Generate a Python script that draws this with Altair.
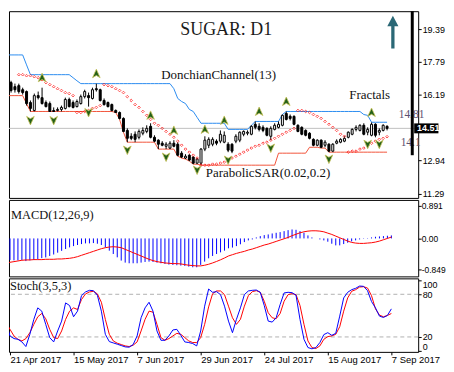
import altair as alt
import pandas as pd

# ---------------- data ----------------
bar_index = list(range(-2, 97))

opens = [16.95, 16.76, 16.56, 16.61, 16.41, 16.32, 15.78, 15.39, 16.12, 16.02,
         15.78, 15.73, 15.39, 15.39, 15.44, 15.49, 15.93, 15.78, 15.58, 15.73,
         16.07, 16.12, 15.98, 16.46, 16.41, 15.88, 15.78, 15.68, 15.39, 15.29,
         15.00, 14.41, 14.12, 14.22, 14.07, 14.27, 14.36, 14.61, 14.07, 13.93,
         13.78, 13.63, 13.54, 13.78, 13.73, 13.29, 13.05, 13.19, 13.10, 12.80,
         12.80, 13.49, 13.68, 13.73, 13.88, 13.88, 13.83, 13.73, 13.73, 13.88,
         13.93, 14.22, 14.27, 14.22, 14.71, 14.61, 14.56, 14.51, 14.12, 14.46,
         14.56, 14.66, 15.24, 15.10, 15.10, 14.66, 14.56, 14.41, 14.27, 13.97,
         13.68, 13.93, 13.68, 13.73, 13.39, 13.78, 13.83, 13.88, 14.07, 14.22,
         14.46, 14.41, 14.66, 14.32, 14.17, 14.71, 14.32, 14.41, 14.61]
highs = [17.05, 16.85, 16.71, 16.71, 16.51, 16.37, 15.88, 16.22, 16.32, 16.51,
         15.88, 15.83, 15.54, 15.54, 15.63, 16.02, 16.02, 15.88, 15.93, 16.17,
         16.41, 16.27, 16.51, 16.71, 16.46, 15.98, 15.83, 15.73, 15.44, 15.34,
         15.05, 14.51, 14.27, 14.36, 14.46, 14.56, 14.66, 14.76, 14.17, 13.97,
         13.88, 13.83, 13.88, 13.93, 13.83, 13.39, 13.24, 13.24, 13.14, 13.05,
         13.54, 14.12, 14.07, 14.07, 13.97, 14.41, 14.36, 13.83, 13.78, 14.22,
         14.36, 14.41, 14.41, 14.66, 14.85, 14.76, 14.66, 14.56, 14.61, 14.76,
         14.85, 15.19, 15.34, 15.19, 15.15, 14.71, 14.61, 14.46, 14.32, 14.02,
         13.97, 13.97, 13.93, 13.78, 13.78, 13.97, 14.02, 14.12, 14.36, 14.51,
         14.66, 14.71, 14.76, 14.56, 14.80, 14.76, 14.51, 14.71, 14.66]
lows = [16.37, 16.27, 16.27, 16.22, 16.17, 15.63, 15.34, 15.34, 15.93, 15.68,
        15.54, 15.34, 15.34, 15.34, 15.34, 15.44, 15.54, 15.49, 15.54, 15.68,
        15.98, 15.58, 15.93, 16.32, 15.83, 15.63, 15.54, 15.34, 15.29, 14.95,
        14.32, 13.83, 13.93, 13.83, 13.97, 14.17, 14.27, 14.02, 13.83, 13.49,
        13.63, 13.49, 13.49, 13.58, 13.14, 13.05, 13.00, 12.90, 12.75, 12.75,
        12.70, 13.39, 13.54, 13.63, 13.68, 13.78, 13.78, 13.34, 13.29, 13.78,
        13.83, 14.12, 14.17, 14.17, 14.46, 14.36, 14.32, 14.12, 13.93, 14.41,
        14.51, 14.61, 14.90, 14.90, 14.66, 14.32, 14.17, 14.12, 13.97, 13.63,
        13.63, 13.54, 13.58, 13.34, 13.34, 13.73, 13.78, 13.83, 14.02, 14.17,
        14.36, 14.36, 14.17, 14.17, 14.12, 14.07, 14.17, 14.36, 14.41]
closes = [16.46, 16.37, 16.41, 16.32, 16.27, 15.73, 15.49, 16.12, 16.02, 15.73,
          15.58, 15.34, 15.34, 15.44, 15.54, 15.93, 15.58, 15.54, 15.83, 16.07,
          16.32, 16.02, 16.41, 16.41, 15.88, 15.68, 15.58, 15.39, 15.29, 15.00,
          14.36, 14.02, 14.02, 13.97, 14.36, 14.41, 14.51, 14.07, 13.88, 13.73,
          13.68, 13.73, 13.78, 13.63, 13.19, 13.10, 13.14, 12.95, 12.80, 13.00,
          13.49, 13.93, 13.97, 13.97, 13.78, 14.22, 14.17, 13.44, 13.39, 14.12,
          14.32, 14.36, 14.32, 14.61, 14.56, 14.46, 14.41, 14.17, 14.51, 14.66,
          14.71, 15.15, 14.95, 15.00, 14.71, 14.36, 14.22, 14.17, 14.02, 13.68,
          13.93, 13.58, 13.83, 13.39, 13.73, 13.88, 13.97, 14.02, 14.32, 14.46,
          14.56, 14.66, 14.22, 14.46, 14.71, 14.17, 14.41, 14.66, 14.51]

donchian_upper = ([18.12] * 5 + [17.63] + [17.15] * 11 + [17.00, 16.85] + [16.71] * 24
                  + [16.46, 15.98, 15.83, 15.73, 15.44, 15.34, 15.05] + [14.76] * 7
                  + [14.46] * 6 + [14.66] + [14.85] * 7 + [15.19] + [15.34] * 20
                  + [15.19, 15.15] + [14.81] * 5)
donchian_lower = ([16.12] * 5 + [15.73] + [15.34] * 22 + [15.29, 14.95, 14.32] + [13.83] * 8
                  + [13.49] * 5 + [13.14, 13.05, 13.00, 12.90] + [12.75] * 2 + [12.70] * 20
                  + [13.29] * 8 + [13.58] * 3 + [13.54] * 2 + [13.34] * 16)

sar = ([None] * 3
       + [17.15, 17.15, 17.10, 17.10, 17.05, 17.00, 16.90, 16.76, 16.66, 16.56, 16.46, 16.37, 16.27, 16.22, 16.12]
       + [15.29, 15.29, 15.34, 15.39, 15.49, 15.54, 15.63]
       + [16.66, 16.61, 16.56, 16.46, 16.37, 16.27, 16.07, 15.88, 15.68, 15.54, 15.34, 15.15, 14.95,
          14.76, 14.66, 14.51, 14.36, 14.22, 14.07, 13.88, 13.68, 13.49, 13.34, 13.19, 13.05]
       + [12.70, 12.70, 12.70, 12.75, 12.75, 12.80, 12.85, 12.95, 13.05, 13.14, 13.24, 13.34, 13.44,
          13.54, 13.63, 13.68, 13.78, 13.83, 13.93, 14.02, 14.12, 14.22, 14.32, 14.41, 14.51]
       + [15.39, 15.39, 15.34, 15.29, 15.19, 15.10, 15.00, 14.85, 14.71, 14.56, 14.41, 14.22, 14.12]
       + [13.34, 13.39, 13.39, 13.49, 13.54, 13.68, 13.78, 13.88, 13.97, 14.02, 14.10])

fractal_up_index = [7, 21, 35, 41, 49, 54, 63, 70, 92]
fractal_up_value = [17.00, 17.20, 15.15, 14.41, 14.46, 14.90, 15.34, 15.83, 15.29]
fractal_down_index = [4, 10, 19, 29, 39, 47, 55, 66, 81, 91, 94]
fractal_down_value = [14.90, 14.90, 15.29, 13.44, 13.10, 12.46, 12.95, 13.54, 13.00, 13.73, 13.73]

macd_hist = [-0.58, -0.59, -0.59, -0.60, -0.60, -0.59, -0.62, -0.60, -0.59, -0.57,
             -0.54, -0.52, -0.48, -0.44, -0.39, -0.34, -0.29, -0.245, -0.21, -0.18,
             -0.155, -0.136, -0.136, -0.127, -0.145, -0.18, -0.245, -0.335, -0.426, -0.517,
             -0.607, -0.662, -0.68, -0.68, -0.68, -0.662, -0.644, -0.635, -0.644, -0.662,
             -0.68, -0.698, -0.716, -0.725, -0.734, -0.743, -0.752, -0.771, -0.789, -0.789,
             -0.725, -0.635, -0.544, -0.48, -0.426, -0.381, -0.335, -0.27, -0.25, -0.21,
             -0.16, -0.10, -0.054, -0.027, 0.027, 0.063, 0.091, 0.109, 0.136, 0.154,
             0.172, 0.20, 0.227, 0.245, 0.236, 0.20, 0.154, 0.082, 0.027, 0.0,
             -0.027, -0.054, -0.09, -0.145, -0.19, -0.19, -0.154, -0.118, -0.082, -0.054,
             -0.027, -0.009, 0.009, 0.027, 0.045, 0.054, 0.063, 0.073, 0.082]
macd_signal = [-0.707, -0.68, -0.653, -0.635, -0.617, -0.598, -0.589, -0.589, -0.58, -0.58,
               -0.58, -0.571, -0.571, -0.571, -0.562, -0.562, -0.553, -0.544, -0.526, -0.499,
               -0.462, -0.426, -0.39, -0.354, -0.317, -0.281, -0.254, -0.236, -0.227, -0.236,
               -0.254, -0.299, -0.345, -0.39, -0.435, -0.48, -0.526, -0.571, -0.607, -0.635,
               -0.653, -0.671, -0.68, -0.689, -0.689, -0.698, -0.716, -0.734, -0.743, -0.752,
               -0.752, -0.734, -0.707, -0.671, -0.63, -0.585, -0.535, -0.48, -0.445, -0.41,
               -0.381, -0.354, -0.317, -0.29, -0.254, -0.218, -0.181, -0.154, -0.118, -0.082,
               -0.045, -0.009, 0.027, 0.075, 0.115, 0.154, 0.181, 0.20, 0.209, 0.209,
               0.20, 0.181, 0.145, 0.109, 0.063, 0.018, -0.027, -0.073, -0.109, -0.127,
               -0.136, -0.136, -0.127, -0.118, -0.10, -0.073, -0.036, 0.0, 0.036]

stoch_k = [46.0, 40.0, 21.4, 17.7, 16.7, 13.0, 6.5, 23.7, 44.7, 60.9,
           56.3, 37.7, 19.1, 13.0, 28.4, 42.3, 67.9, 64.2, 48.4, 56.3,
           78.1, 83.3, 85.6, 85.1, 78.6, 56.3, 23.7, 13.5, 11.6, 9.8,
           7.9, 6.0, 5.6, 9.3, 21.4, 47.0, 60.9, 68.8, 56.3, 28.4,
           15.3, 15.3, 21.4, 29.8, 30.7, 22.3, 13.0, 12.1, 10.7, 7.4,
           28.4, 63.3, 87.4, 82.8, 83.7, 79.5, 63.3, 42.3, 26.0, 44.7,
           60.9, 79.5, 84.7, 85.6, 86.0, 82.8, 64.2, 42.3, 40.9, 47.0,
           65.6, 81.9, 82.8, 82.3, 78.6, 44.7, 16.7, 5.1, 3.3, 5.1,
           12.1, 23.3, 26.0, 22.3, 25.1, 49.3, 74.9, 82.8, 86.5, 88.4,
           91.6, 91.2, 85.1, 69.8, 60.9, 49.3, 47.4, 50.2, 59.5]
stoch_d = [48.4, 40.9, 30.7, 21.4, 16.7, 14.4, 17.7, 26.0, 37.7, 48.4,
           53.0, 45.6, 30.7, 19.1, 17.7, 28.4, 44.7, 56.3, 60.9, 58.6,
           72.6, 80.5, 83.3, 84.2, 80.5, 68.8, 44.7, 23.7, 14.4, 11.2,
           9.3, 7.4, 6.5, 8.4, 13.0, 28.4, 44.7, 56.3, 54.9, 37.7,
           19.1, 15.3, 17.7, 21.4, 25.1, 23.7, 19.1, 14.4, 12.1, 12.1,
           19.1, 37.7, 62.3, 80.9, 84.7, 84.7, 79.5, 63.3, 47.0, 37.7,
           44.7, 63.3, 78.1, 83.7, 85.1, 82.8, 70.2, 54.0, 47.0, 45.6,
           53.0, 70.2, 79.5, 80.9, 79.5, 64.2, 37.7, 14.4, 5.1, 3.7,
           7.4, 16.7, 20.5, 21.4, 23.7, 34.4, 56.3, 74.9, 84.2, 86.5,
           90.2, 90.7, 88.8, 78.1, 59.5, 50.7, 48.4, 50.2, 53.0]
stoch_levels = [20, 80]

price_ticks = [11.29, 12.94, 16.19, 17.79, 19.39]
macd_ticks = [-0.849, 0.0, 0.891]
macd_tick_labels = ["-0.849", "0.00", "0.891"]
stoch_ticks = [0, 20, 80, 100]
date_ticks = [0, 16, 32, 48, 64, 80, 96]
date_labels = ["21 Apr 2017", "15 May 2017", "7 Jun 2017", "29 Jun 2017",
               "24 Jul 2017", "15 Aug 2017", "7 Sep 2017"]

# ---------------- frames ----------------
df = pd.DataFrame({
    "i": bar_index, "open": opens, "high": highs, "low": lows, "close": closes,
    "dc_up": donchian_upper, "dc_lo": donchian_lower, "sar": sar,
    "hist": macd_hist, "signal": macd_signal, "k": stoch_k, "d": stoch_d,
})
up_df = pd.DataFrame({"i": fractal_up_index, "v": fractal_up_value})
dn_df = pd.DataFrame({"i": fractal_down_index, "v": fractal_down_value})
last_df = pd.DataFrame({"v": [closes[-1]]})
lvl_df = pd.DataFrame({"lvl": stoch_levels})

SERIF = "Liberation Serif"
SANS = "Liberation Sans"
W = 412

axis_style = dict(orient="right", domain=False, grid=False, ticks=True, tickSize=3,
                  tickColor="black", labelFont=SANS, labelFontSize=9, labelColor="black",
                  labelPadding=1, labelOverlap=False, title=None)

xs = alt.Scale(domain=[-0.25, 102.75], nice=False, zero=False)


def arr(vals):
    return "[" + ",".join(repr(v) if not isinstance(v, str) else "'" + v + "'" for v in vals) + "]"


x_axis = alt.Axis(values=date_ticks,
                  labelExpr=arr(date_labels) + "[indexof(" + arr(date_ticks) + ", datum.value)]",
                  labelAlign="left", labelPadding=0, tickSize=3, tickColor="black",
                  domain=False, grid=False, labelFlush=False, labelOverlap=False,
                  labelFont=SANS, labelFontSize=9.5, labelColor="black", title=None)

X_none = alt.X("i:Q", scale=xs, axis=None, title=None)
X_ax = alt.X("i:Q", scale=xs, axis=x_axis, title=None)


def Xd(v, axis=None):
    return alt.XDatum(v, type="quantitative", scale=xs, axis=axis)


# ---------------- price panel ----------------
price_scale = alt.Scale(domain=[11.09, 20.27], nice=False, zero=False)
price_axis = alt.Axis(values=price_ticks, format=".2f", **axis_style)


def Yp(f):
    return alt.Y(f, type="quantitative", scale=price_scale, axis=price_axis, title=None)


def Ypd(v):
    return alt.YDatum(v, type="quantitative", scale=price_scale, axis=price_axis)


base = alt.Chart(df)

UP_PATH = "M0,-1L0.85,0.9L0,0.4L-0.85,0.9Z"
DN_PATH = "M0,1L0.85,-0.9L0,-0.4L-0.85,-0.9Z"
ARROW_PATH = "M0,-1L0.34,-0.36L0.1,-0.36L0.1,1L-0.1,1L-0.1,-0.36L-0.34,-0.36Z"


def note(text, xv, ydatum, **kw):
    return alt.Chart(pd.DataFrame({"t": [text]})).mark_text(**kw).encode(
        x=Xd(xv), y=ydatum, text="t:N")


price_line = alt.Chart(last_df).mark_rule(color="#c0c0c0", strokeWidth=1).encode(y=Yp("v"))
dc_up = base.mark_line(color="#2b8cf0", strokeWidth=1, clip=True).encode(x=X_none, y=Yp("dc_up"))
dc_lo = base.mark_line(color="#f2543a", strokeWidth=1, clip=True).encode(x=X_none, y=Yp("dc_lo"))
wicks = base.mark_rule(color="black", strokeWidth=1, clip=True).encode(
    x=X_none, y=Yp("low"), y2="high")
bodies = base.mark_bar(size=2, stroke="black", strokeWidth=1, clip=True).encode(
    x=X_none, y=Yp("open"), y2="close",
    fill=alt.condition("datum.close > datum.open", alt.value("white"), alt.value("black")))
sar_pts = base.mark_point(shape="diamond", filled=False, color="#ff0000", size=7,
                          strokeWidth=1, clip=True).encode(x=X_none, y=Yp("sar"))
frac_up = alt.Chart(up_df).mark_point(shape=UP_PATH, filled=True, fill="#236018",
                                      stroke="#c8c25a", strokeWidth=0.8, size=81,
                                      opacity=1).encode(x=X_none, y=Yp("v"))
frac_dn = alt.Chart(dn_df).mark_point(shape=DN_PATH, filled=True, fill="#236018",
                                      stroke="#c8c25a", strokeWidth=0.8, size=81,
                                      opacity=1).encode(x=X_none, y=Yp("v"))

title_t = note("SUGAR: D1", 54.5, Ypd(19.10), font=SERIF, fontSize=18, color="#1a1a1a",
               align="center", baseline="alphabetic")
dc_t = note("DonchianChannel(13)", 37.75, Ypd(16.95), font=SERIF, fontSize=13, color="#111111",
            align="left", baseline="alphabetic")
fr_t = note("Fractals", 86.25, Ypd(15.93), font=SERIF, fontSize=13, color="#111111",
            align="left", baseline="alphabetic")
sar_t = note("ParabolicSAR(0.02,0.2)", 49.25, Ypd(12.12), font=SERIF, fontSize=13,
             color="#111111", align="left", baseline="alphabetic")
v1_t = note("14.81", 99.0, Ypd(15.15), font=SERIF, fontSize=11.5, color="#5a5070",
            align="left", baseline="middle")
v2_t = note("14.1", 99.5, Ypd(13.78), font=SERIF, fontSize=11.5, color="#5a5070",
            align="left", baseline="middle")

arrow = alt.Chart(pd.DataFrame({"a": [0]})).mark_point(
    shape=ARROW_PATH, filled=True, color="#2b6876", size=1089, opacity=1).encode(
    x=Xd(97.5), y=Ypd(19.24))

scale_bar = alt.Chart(pd.DataFrame({"a": [0]})).mark_rule(color="black", strokeWidth=3).encode(
    x=Xd(102.5), y=Ypd(20.27), y2=alt.Y2Datum(13.19))

box = alt.Chart(last_df).mark_rule(color="black", strokeWidth=10).encode(
    x=Xd(103.0), x2=alt.X2Datum(109.25), y=Yp("v"))
box_t = alt.Chart(last_df).mark_text(align="left", baseline="middle", color="white", font=SANS,
                                     fontSize=9, fontWeight="bold").encode(
    x=Xd(103.75), y=Yp("v"), text=alt.Text("v:Q", format=".2f"))

main = alt.layer(price_line, dc_up, dc_lo, wicks, bodies, sar_pts, frac_up, frac_dn,
                 title_t, dc_t, fr_t, sar_t, v1_t, v2_t, arrow, scale_bar, box, box_t
                 ).properties(width=W, height=188)

# ---------------- MACD panel ----------------
macd_scale = alt.Scale(domain=[-1.039, 1.054], nice=False, zero=False)
macd_style = dict(axis_style)
macd_style.update(labelFontSize=8.5, labelPadding=0)
macd_axis = alt.Axis(values=macd_ticks,
                     labelExpr=arr(macd_tick_labels) + "[indexof(" + arr(macd_ticks) + ", datum.value)]",
                     **macd_style)


def Ym(f):
    return alt.Y(f, type="quantitative", scale=macd_scale, axis=macd_axis, title=None)


hist = base.mark_rule(color="#0000ff", strokeWidth=1, clip=True).encode(
    x=X_none, y=Ym("hist"), y2=alt.Y2Datum(0))
sig = base.mark_line(color="#ff0000", strokeWidth=1, clip=True).encode(x=X_none, y=Ym("signal"))
macd_t = note("MACD(12,26,9)", 0.25,
              alt.YDatum(0.538, type="quantitative", scale=macd_scale, axis=macd_axis),
              font=SERIF, fontSize=12.5, color="#111111", align="left", baseline="alphabetic")
macd = alt.layer(hist, sig, macd_t).properties(width=W, height=77)

# ---------------- Stochastic panel ----------------
stoch_scale = alt.Scale(domain=[-1.0, 102.4], nice=False, zero=False)
stoch_axis = alt.Axis(values=stoch_ticks, labelFlush=3, **axis_style)


def Ys(f):
    return alt.Y(f, type="quantitative", scale=stoch_scale, axis=stoch_axis, title=None)


lv = alt.Chart(lvl_df).mark_rule(color="#b0b0b0", strokeWidth=1, strokeDash=[4, 3]).encode(
    y=Ys("lvl"))
kline = base.mark_line(color="#0000ff", strokeWidth=1, clip=True).encode(x=X_ax, y=Ys("k"))
dline = base.mark_line(color="#ff0000", strokeWidth=1, clip=True).encode(x=X_ax, y=Ys("d"))
st_t = alt.Chart(pd.DataFrame({"t": ["Stoch(3,5,3)"]})).mark_text(
    font=SERIF, fontSize=12.5, color="#111111", align="left", baseline="alphabetic").encode(
    x=Xd(0.0, axis=x_axis),
    y=alt.YDatum(85.6, type="quantitative", scale=stoch_scale, axis=stoch_axis),
    text="t:N")
stoch = alt.layer(lv, dline, kline, st_t).properties(width=W, height=74)

chart = alt.vconcat(main, macd, stoch, spacing=2, bounds="flush").properties(
    padding=0, background="white"
).configure_view(stroke="black", strokeWidth=1)

chart.save("out.html", embed_options={"renderer": "svg", "actions": False})
